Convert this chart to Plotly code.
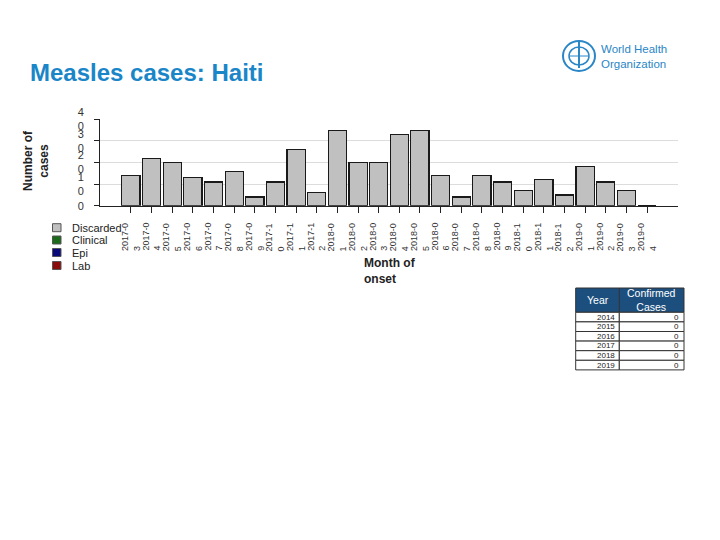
import plotly.graph_objects as go

months = ["2017-03","2017-04","2017-05","2017-06","2017-07","2017-08","2017-09","2017-10",
          "2017-11","2017-12","2018-01","2018-02","2018-03","2018-04","2018-05","2018-06",
          "2018-07","2018-08","2018-09","2018-10","2018-11","2018-12","2019-01","2019-02",
          "2019-03","2019-04"]
discarded = [14,22,20,13,11,16,4,11,26,6,35,20,20,33,35,14,4,14,11,7,12,5,18,11,7,0]
clinical = [0]*len(months)
epi = [0]*len(months)
lab = [0]*len(months)

years = ["2014","2015","2016","2017","2018","2019"]
confirmed = [0,0,0,0,0,0]

ytick_vals = [0,10,20,30,40]
ytick_text = ["0","1<br>0","2<br>0","3<br>0","4<br>0"]

# page body has an 8px margin: size figure to fit and map reference pixels
OFF = 8
W, H = 720 - OFF, 540 - OFF
def fx(p): return (p - OFF) / W
def fy(p): return 1 - (p - OFF) / H

xidx = list(range(len(months)))

fig = go.Figure()
series = [("Discarded", discarded, "#c0c0c0"), ("Clinical", clinical, "#1b6b1b"),
          ("Epi", epi, "#0a0a7a"), ("Lab", lab, "#8b0a0a")]
for name, vals, col in series:
    fig.add_trace(go.Bar(x=xidx, y=vals, name=name, showlegend=False,
                         marker=dict(color=col, line=dict(color="#1a1a1a", width=1.2))))

fig.update_layout(
    width=W, height=H, margin=dict(l=0, r=0, t=0, b=0, autoexpand=False),
    paper_bgcolor="white", plot_bgcolor="white",
    barmode="stack", bargap=0.12, showlegend=False,
    font=dict(family="Liberation Sans", color="#222"),
    xaxis=dict(domain=[fx(100), fx(678)], range=[-1.5, 26.5], tickmode="array",
               tickvals=xidx, ticktext=[""]*len(xidx),
               ticks="outside", ticklen=6, tickcolor="#222", showline=True, linecolor="#222",
               showgrid=False, zeroline=False, fixedrange=True),
    yaxis=dict(domain=[fy(205.7), fy(119.3)], range=[0, 40], tickmode="array",
               tickvals=ytick_vals, ticktext=ytick_text, tickfont=dict(size=11, color="#333"),
               ticks="outside", ticklen=5, tickcolor="#222", ticklabelstandoff=8,
               showline=True, linecolor="#222",
               showgrid=True, gridcolor="#dcdcdc", zeroline=False, fixedrange=True),
)

def note(text, x, y, size, color="#222", xa="center", ya="middle", angle=0, align="center", xref="paper"):
    fig.add_annotation(text=text, x=x, y=y, xref=xref, yref="paper", xanchor=xa, yanchor=ya,
                       textangle=angle, align=align, showarrow=False,
                       font=dict(size=size, color=color, family="Liberation Sans"))

# rotated month labels
for i, m in enumerate(months):
    note(m[:6] + "<br>" + m[6:], i, fy(221), 9, "#333", xa="center", ya="top",
         angle=-90, align="left", xref="x")

# manual legend
leg_rows = [227.7, 240.0, 252.5, 265.5]
for (name, vals, col), yy in zip(series, leg_rows):
    fig.add_shape(type="rect", xref="paper", yref="paper",
                  x0=fx(52.5), x1=fx(61), y0=fy(yy + 4), y1=fy(yy - 4),
                  fillcolor=col, line=dict(color="#555", width=1))
    note(name, fx(69.5), fy(yy), 11, xa="left")

# titles
note("<b>Measles cases: Haiti</b>", fx(28), fy(72), 24, "#1a86c8", xa="left")
note("<b>Number of<br>cases</b>", fx(36), fy(161), 12, angle=-90)
note("<b>Month of<br>onset</b>", fx(362), fy(271), 12, xa="left", align="left")

# confirmed cases table (drawn with shapes/text)
tx0, tx1, tdiv = 575.7, 684.0, 619.3
ty0, thead, trow = 288.0, 312.3, 9.6
fig.add_shape(type="rect", xref="paper", yref="paper", x0=fx(tx0), x1=fx(tx1), y0=fy(thead), y1=fy(ty0),
              fillcolor="#1d4f7e", line=dict(color="#333", width=1))
note("Year", fx((tx0 + tdiv) / 2), fy((ty0 + thead) / 2), 10.5, "white")
note("Confirmed<br>Cases", fx((tdiv + tx1) / 2), fy((ty0 + thead) / 2), 10.5, "white")
for k, (yr, val) in enumerate(zip(years, confirmed)):
    r0 = thead + k * trow
    r1 = r0 + trow
    fig.add_shape(type="rect", xref="paper", yref="paper", x0=fx(tx0), x1=fx(tdiv), y0=fy(r1), y1=fy(r0),
                  fillcolor="white", line=dict(color="#333", width=1))
    fig.add_shape(type="rect", xref="paper", yref="paper", x0=fx(tdiv), x1=fx(tx1), y0=fy(r1), y1=fy(r0),
                  fillcolor="white", line=dict(color="#333", width=1))
    note(yr, fx(tdiv - 2), fy((r0 + r1) / 2), 8, xa="right")
    note(str(val), fx(tx1 - 3), fy((r0 + r1) / 2), 8, xa="right")
fig.add_shape(type="line", xref="paper", yref="paper", x0=fx(tdiv), x1=fx(tdiv), y0=fy(thead), y1=fy(ty0),
              line=dict(color="#333", width=1))

# WHO logo approximation
logo = "#2a86c6"
fig.add_shape(type="circle", xref="paper", yref="paper",
              x0=fx(563), x1=fx(595), y0=fy(71), y1=fy(41), line=dict(color=logo, width=2))
fig.add_shape(type="circle", xref="paper", yref="paper",
              x0=fx(569), x1=fx(589), y0=fy(65), y1=fy(47), line=dict(color=logo, width=1.5))
fig.add_shape(type="line", xref="paper", yref="paper",
              x0=fx(579), x1=fx(579), y0=fy(68), y1=fy(40), line=dict(color=logo, width=2))
fig.add_shape(type="line", xref="paper", yref="paper",
              x0=fx(569), x1=fx(589), y0=fy(56), y1=fy(56), line=dict(color=logo, width=1))
note("World Health<br>Organization", fx(599), fy(56), 11.5, logo, xa="left", align="left")

fig.write_html("out.html")
